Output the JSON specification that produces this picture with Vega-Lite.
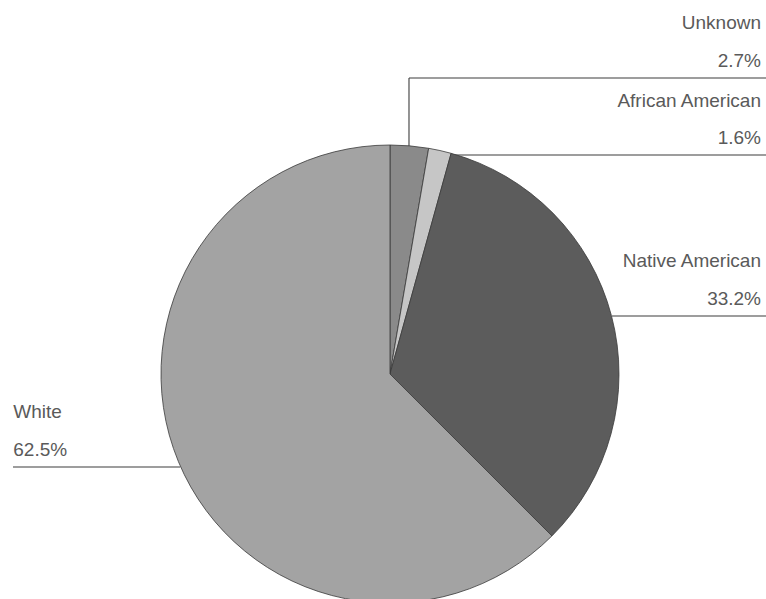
{
  "$schema": "https://vega.github.io/schema/vega-lite/v6.json",
  "width": 766,
  "height": 599,
  "autosize": {"type": "none"},
  "padding": 0,
  "background": "white",
  "config": {"view": {"stroke": null}},
  "datasets": {
    "slices": [
      {"race": "Unknown", "pct": 2.7, "order": 1},
      {"race": "African American", "pct": 1.6, "order": 2},
      {"race": "Native American", "pct": 33.2, "order": 3},
      {"race": "White", "pct": 62.5, "order": 4}
    ],
    "labels": [
      {"race": "Unknown", "line": "Unknown", "lx": 1.6272, "ly": 1.5118, "side": "right"},
      {"race": "Unknown", "line": "2.7%", "lx": 1.6272, "ly": 1.3478, "side": "right"},
      {"race": "African American", "line": "African American", "lx": 1.6272, "ly": 1.1697, "side": "right"},
      {"race": "African American", "line": "1.6%", "lx": 1.6272, "ly": 1.0088, "side": "right"},
      {"race": "Native American", "line": "Native American", "lx": 1.6272, "ly": 0.4706, "side": "right"},
      {"race": "Native American", "line": "33.2%", "lx": 1.6272, "ly": 0.3026, "side": "right"},
      {"race": "White", "line": "White", "lx": -1.6522, "ly": -0.1917, "side": "left"},
      {"race": "White", "line": "62.5%", "lx": -1.6522, "ly": -0.3596, "side": "left"}
    ],
    "leaders": [
      {"race": "Unknown", "x1": 0.0833, "y1": 0.9956, "x2": 0.0833, "y2": 1.2982},
      {"race": "Unknown", "x1": 0.0833, "y1": 1.2982, "x2": 1.6491, "y2": 1.2982},
      {"race": "African American", "x1": 0.25, "y1": 0.9605, "x2": 1.6491, "y2": 0.9605},
      {"race": "Native American", "x1": 0.9737, "y1": 0.2544, "x2": 1.6491, "y2": 0.2544},
      {"race": "White", "x1": -1.6535, "y1": -0.4079, "x2": -0.92, "y2": -0.4079}
    ]
  },
  "layer": [
    {
      "data": {"name": "leaders"},
      "mark": {"type": "rule", "color": "#3c3c3c", "strokeWidth": 1.1},
      "encoding": {
        "x": {"field": "x1", "type": "quantitative", "scale": {"domain": [-1.7105, 1.6491], "nice": false, "zero": false}, "axis": null},
        "y": {"field": "y1", "type": "quantitative", "scale": {"domain": [-0.9868, 1.6404], "nice": false, "zero": false}, "axis": null},
        "x2": {"field": "x2"},
        "y2": {"field": "y2"}
      }
    },
    {
      "data": {"name": "slices"},
      "mark": {"type": "arc", "radius": 229, "stroke": "#3a3a3a", "strokeWidth": 0.8},
      "encoding": {
        "theta": {"field": "pct", "type": "quantitative", "stack": true},
        "order": {"field": "order", "type": "quantitative"},
        "color": {
          "field": "race",
          "type": "nominal",
          "scale": {
            "domain": ["Unknown", "African American", "Native American", "White"],
            "range": ["#8a8a8a", "#c6c6c6", "#5c5c5c", "#a3a3a3"]
          },
          "legend": null
        },
        "x": {"datum": 0, "type": "quantitative", "scale": {"domain": [-1.7105, 1.6491], "nice": false, "zero": false}, "axis": null},
        "y": {"datum": 0, "type": "quantitative", "scale": {"domain": [-0.9868, 1.6404], "nice": false, "zero": false}, "axis": null}
      }
    },
    {
      "data": {"name": "labels"},
      "transform": [{"filter": "datum.side === 'right'"}],
      "mark": {"type": "text", "align": "right", "baseline": "alphabetic", "font": "Liberation Sans", "fontSize": 19, "color": "#5a5a5a"},
      "encoding": {
        "x": {"field": "lx", "type": "quantitative", "scale": {"domain": [-1.7105, 1.6491], "nice": false, "zero": false}, "axis": null},
        "y": {"field": "ly", "type": "quantitative", "scale": {"domain": [-0.9868, 1.6404], "nice": false, "zero": false}, "axis": null},
        "text": {"field": "line"}
      }
    },
    {
      "data": {"name": "labels"},
      "transform": [{"filter": "datum.side === 'left'"}],
      "mark": {"type": "text", "align": "left", "baseline": "alphabetic", "font": "Liberation Sans", "fontSize": 19, "color": "#5a5a5a"},
      "encoding": {
        "x": {"field": "lx", "type": "quantitative", "scale": {"domain": [-1.7105, 1.6491], "nice": false, "zero": false}, "axis": null},
        "y": {"field": "ly", "type": "quantitative", "scale": {"domain": [-0.9868, 1.6404], "nice": false, "zero": false}, "axis": null},
        "text": {"field": "line"}
      }
    }
  ]
}
